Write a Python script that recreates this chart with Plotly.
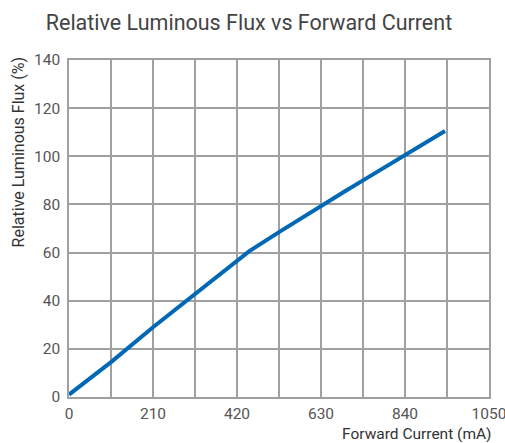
import plotly.graph_objects as go

current_ma = [0, 105, 210, 315, 420, 450, 525, 630, 690, 735, 840, 940]
rel_flux = [1.0, 14.5, 29.0, 43.0, 56.5, 60.5, 68.5, 79.5, 85.5, 90.0, 100.3, 110.5]

x_tickvals = [0, 105, 210, 315, 420, 525, 630, 735, 840, 945, 1050]
x_ticktext = ["0", "", "210", "", "420", "", "630", "", "840", "", "1050"]
y_tickvals = [0, 20, 40, 60, 80, 100, 120, 140]

FONT = "Roboto"
GRID = "#a0a0a0"

fig = go.Figure()
fig.add_trace(go.Scatter(x=current_ma, y=rel_flux, mode="lines",
                         line=dict(color="#0068b4", width=4), showlegend=False))

fig.update_layout(
    width=505, height=443,
    margin=dict(l=69, r=16, t=60, b=46),
    paper_bgcolor="white", plot_bgcolor="white",
    title=dict(text="Relative Luminous Flux vs Forward Current", x=0.493, xanchor="center",
               y=0.949, yanchor="middle", font=dict(family=FONT, size=21.5, color="#444444")),
    font=dict(family=FONT, size=15, color="#555555"),
)
fig.update_xaxes(range=[0, 1050], tickvals=x_tickvals, ticktext=x_ticktext,
                 showgrid=True, gridcolor=GRID, gridwidth=1.5, zeroline=False,
                 showline=True, linecolor=GRID, linewidth=1.5, mirror=True, automargin=False,
                 ticklabeloverflow="allow",
                 ticks="", ticklabelstandoff=2, tickfont=dict(size=15.5, color="#555555"))
fig.update_yaxes(range=[0, 140], tickvals=y_tickvals,
                 showgrid=True, gridcolor=GRID, gridwidth=1.5, zeroline=False,
                 showline=True, linecolor=GRID, linewidth=1.5, mirror=True, automargin=False,
                 ticklabeloverflow="allow",
                 ticks="", ticklabelstandoff=4, tickfont=dict(size=15.5, color="#555555"))

# outward ticks at the origin
fig.add_shape(type="line", xref="x", yref="y", xsizemode="pixel", xanchor=0,
              x0=-7, x1=0, y0=0, y1=0, line=dict(color="#888888", width=1.5))
fig.add_shape(type="line", xref="x", yref="y", ysizemode="pixel", yanchor=0,
              x0=0, x1=0, y0=0, y1=-7, line=dict(color="#888888", width=1.5))

fig.add_annotation(text="Relative Luminous Flux (%)", xref="paper", yref="paper",
                   x=-0.118, y=1.015, xanchor="center", yanchor="top", textangle=-90,
                   showarrow=False, font=dict(family=FONT, size=16, color="#333333"))
fig.add_annotation(text="Forward Current (mA)", xref="paper", yref="paper",
                   x=1.01, y=-0.081, xanchor="right", yanchor="top", borderpad=0,
                   showarrow=False, font=dict(family=FONT, size=15.5, color="#333333"))

fig.write_html("out.html", config={"displayModeBar": False},
               post_script="document.body.style.margin='0';document.body.style.overflow='hidden';")
